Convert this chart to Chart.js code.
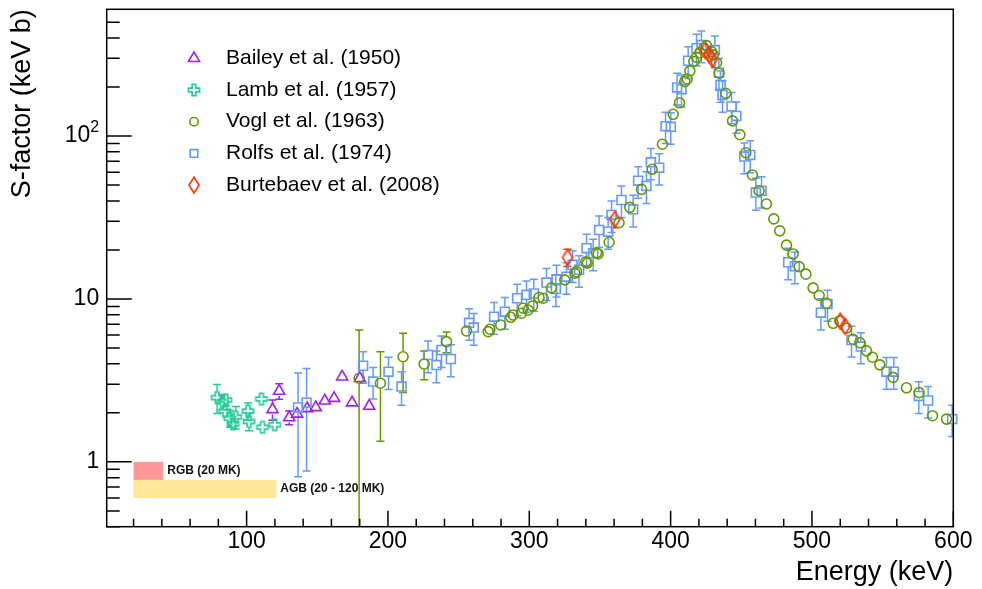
<!DOCTYPE html>
<html>
<head>
<meta charset="utf-8">
<title>S-factor vs energy</title>
<script src="https://cdn.jsdelivr.net/npm/chart.js@4.4.1/dist/chart.umd.min.js"></script>
<style>
  html, body { margin: 0; padding: 0; background: #fff; }
  #wrap { width: 982px; height: 589px; }
</style>
</head>
<body>
<div id="wrap"><canvas id="sfactorChart" width="982" height="589"></canvas></div>
<script>
// energies in keV, S-factor and its (symmetric) error in keV b
const baileyE = [118.3, 123.0, 130.1, 135.7, 142.8, 148.9, 155.3, 161.9, 167.6, 174.6, 180.1, 186.7];
const baileyS = [2.10, 2.72, 1.87, 1.97, 2.13, 2.16, 2.37, 2.46, 3.33, 2.31, 3.26, 2.20];
const baileyErr = [0.30, 0.30, 0.18, 0.05, 0.10, 0.05, 0.06, 0.06, 0.08, 0.06, 0.08, 0.06];

const lambE = [79.1, 82.9, 85.3, 84.6, 88.1, 90.4, 92.3, 101.0, 101.7, 110.5, 111.2, 119.9];
const lambS = [2.48, 2.34, 2.40, 2.05, 1.85, 1.71, 1.89, 2.05, 1.77, 2.43, 1.63, 1.69];
const lambErr = [0.50, 0.25, 0.20, 0.15, 0.22, 0.12, 0.30, 0.25, 0.22, 0.10, 0.08, 0.08];

const voglE = [179.6, 194.7, 210.7, 225.6, 241.4, 255.6, 270.9, 272.1, 279.8, 286.9, 288.5, 294.5, 295.6, 299.2, 302.3,
  306.9, 309.8, 315.7, 325.1, 332.2, 333.4, 340.0, 341.0, 347.6, 348.7, 356.5, 363.5, 371.1, 379.4, 386.9, 394.2,
  401.8, 406.3, 410.0, 411.7, 413.6, 416.4, 418.3, 420.7, 423.5, 425.4, 428.9, 430.2, 432.5, 434.3, 439.0, 443.8,
  449.0, 453.2, 457.9, 462.6, 467.8, 473.0, 477.2, 482.0, 486.7, 490.9, 495.7, 500.8, 505.1, 510.3, 515.0, 519.7,
  524.5, 529.1, 533.9, 538.6, 542.8, 548.0, 557.4, 566.9, 575.8, 585.3, 595.2];
const voglS = [3.26, 3.04, 4.42, 3.99, 5.47, 6.36, 6.30, 6.52, 6.92, 7.72, 7.98, 8.17, 8.77, 8.56, 9.06,
  10.2, 10.1, 11.7, 13.1, 14.4, 14.7, 16.9, 16.6, 19.2, 18.9, 22.3, 29.4, 36.5, 47.1, 62.5, 89.1,
  136, 160, 216, 224, 251, 287, 305, 325, 346, 359, 330, 315, 282, 243, 183, 124,
  102, 79.0, 57.7, 46.2, 38.3, 31.0, 26.2, 21.4, 18.9, 15.8, 14.2, 11.7, 10.5, 9.41, 7.09, 7.33,
  6.61, 5.66, 5.39, 4.80, 4.39, 3.94, 3.30, 2.85, 2.66, 1.92, 1.83];
const voglErr = [3.20, 1.70, 1.75, 0.80, 0.80, 0.40, 0.19, 0.20, 0.21, 0.23, 0.24, 0.25, 0.26, 0.26, 0.27,
  0.31, 0.30, 0.35, 0.39, 0.43, 0.44, 0.51, 0.50, 0.58, 0.57, 0.67, 0.88, 1.1, 1.4, 1.9, 2.7,
  4.1, 4.8, 6.5, 6.7, 7.5, 8.6, 9.2, 9.8, 10.4, 10.8, 9.9, 9.5, 8.5, 7.3, 5.5, 3.7,
  3.1, 2.4, 1.7, 1.4, 1.1, 0.93, 0.79, 0.64, 0.57, 0.47, 0.43, 0.35, 0.32, 0.28, 0.21, 0.22,
  0.20, 0.17, 0.16, 0.14, 0.13, 0.12, 0.10, 0.09, 0.08, 0.06, 0.05];

const rolfsE = [136.4, 142.4, 182.4, 189.5, 200.4, 209.6, 228.4, 234.3, 237.9, 244.5, 257.4, 260.7, 275.1, 282.7,
  291.4, 298.0, 303.2, 312.2, 318.8, 319.3, 326.3, 330.6, 335.2, 340.5, 345.2, 349.4, 355.8, 358.2, 365.2, 373.5,
  377.0, 382.9, 386.0, 391.9, 396.4, 400.1, 404.6, 407.7, 412.4, 418.3, 421.8, 431.3, 434.2, 435.3, 436.7, 443.1,
  446.5, 452.1, 456.3, 460.3, 464.3, 483.2, 487.9, 506.3, 511.0, 528.0, 534.6, 552.7, 557.9, 575.6, 582.2, 599.2];
const rolfsS = [2.16, 2.31, 3.89, 3.11, 3.58, 2.90, 4.53, 3.93, 4.86, 4.28, 7.14, 6.67, 7.79, 8.36,
  10.1, 10.6, 10.8, 12.6, 11.5, 13.2, 13.7, 16.2, 15.1, 20.5, 19.1, 26.5, 25.9, 32.8, 40.5, 35.5,
  53.2, 49.4, 69.0, 64.0, 115, 114, 199, 194, 290, 346, 362, 337, 245, 206, 179, 152,
  133, 74.8, 76.6, 45.0, 46.2, 16.8, 15.9, 8.24, 9.31, 5.60, 5.10, 3.58, 3.58, 2.54, 2.38, 1.83];
const rolfsErr = [1.35, 1.43, 0.85, 0.68, 0.80, 0.67, 1.00, 0.87, 1.07, 0.95, 1.57, 1.47, 1.71, 1.84,
  2.2, 2.3, 2.4, 2.8, 2.5, 2.9, 3.0, 3.6, 3.3, 4.5, 4.2, 5.8, 5.7, 7.2, 8.9, 7.8,
  11.7, 10.9, 15, 14, 25, 25, 44, 43, 64, 76, 80, 74, 54, 45, 39, 33,
  29, 16, 17, 10, 10, 3.7, 3.5, 1.8, 2.0, 1.2, 1.1, 0.79, 0.79, 0.56, 0.52, 0.40];

const burtebaevE = [327.0, 360.5, 424.5, 427.3, 429.5, 520.0, 523.5];
const burtebaevS = [18.0, 30.8, 335, 315, 296, 7.3, 6.8];
const burtebaevErr = [2.2, 3.4, 25, 25, 25, 0.6, 0.6];

// Gamow-window bands drawn in the lower left corner
const bandLabels = ["RGB (20 MK)", "AGB (20 - 120 MK)"];
const bandEmin = [20, 20];
const bandEmax = [41, 121];
const bandSmin = [0.775, 0.6];
const bandSmax = [1.0, 0.775];

// axis ticks (y labels are base + superscript exponent, ROOT style)
const xMajorTicks = [100, 200, 300, 400, 500, 600];
const xMinorTicks = [20, 40, 60, 80, 120, 140, 160, 180, 220, 240, 260, 280, 320, 340, 360, 380,
  420, 440, 460, 480, 520, 540, 560, 580];
const yMajorTicks = [1, 10, 100];
const yLabelBase = ["1", "10", "10"];
const yLabelExp = ["", "", "2"];
const yMinorTicks = [0.4, 0.5, 0.6, 0.7, 0.8, 0.9, 2, 3, 4, 5, 6, 7, 8, 9, 20, 30, 40, 50, 60, 70, 80, 90,
  200, 300, 400, 500];

const FONT = '"Liberation Sans", Arial, Helvetica, sans-serif';
const BAND_COLORS = ["#ff9999", "#ffe699"];

function makeCross(color) {
  const c = document.createElement("canvas");
  c.width = 16; c.height = 16;
  const g = c.getContext("2d");
  const s = 5.6, a = 1.9;
  const pts = [[-a, -s], [a, -s], [a, -a], [s, -a], [s, a], [a, a], [a, s], [-a, s], [-a, a], [-s, a], [-s, -a], [-a, -a]];
  g.translate(8, 8);
  g.beginPath();
  pts.forEach((p, i) => i ? g.lineTo(p[0], p[1]) : g.moveTo(p[0], p[1]));
  g.closePath();
  g.strokeStyle = color;
  g.lineWidth = 1.6;
  g.stroke();
  return c;
}

function makeDiamond(color) {
  const c = document.createElement("canvas");
  c.width = 14; c.height = 20;
  const g = c.getContext("2d");
  g.translate(7, 10);
  g.beginPath();
  g.moveTo(0, -8); g.lineTo(5, 0); g.lineTo(0, 8); g.lineTo(-5, 0);
  g.closePath();
  g.strokeStyle = color;
  g.lineWidth = 1.6;
  g.stroke();
  return c;
}

function toPoints(E, S, err) {
  return E.map((e, i) => ({ x: e, y: S[i], err: err[i] }));
}

function series(label, E, S, err, color, style, radius, gap, order, legendRadius) {
  return {
    label: label,
    data: toPoints(E, S, err),
    showLine: false,
    pointStyle: style,
    pointRadius: radius,
    pointBorderWidth: 1.6,
    pointBorderColor: color,
    pointBackgroundColor: "rgba(0,0,0,0)",
    borderColor: color,
    clip: false,
    order: order,
    gap: gap,
    legendRadius: legendRadius
  };
}

const framePlugin = {
  id: "rootFrame",
  beforeDatasetsDraw(chart) {
    const { ctx, chartArea: a, scales: { x, y } } = chart;
    ctx.save();

    bandLabels.forEach((label, i) => {
      const x0 = x.getPixelForValue(bandEmin[i]);
      const x1 = x.getPixelForValue(bandEmax[i]);
      const y0 = y.getPixelForValue(bandSmax[i]);
      const y1 = y.getPixelForValue(bandSmin[i]);
      ctx.fillStyle = BAND_COLORS[i];
      ctx.fillRect(x0, y0, x1 - x0, y1 - y0);
      ctx.fillStyle = "#111";
      ctx.font = "bold 12px " + FONT;
      ctx.textAlign = "left";
      ctx.textBaseline = "middle";
      ctx.fillText(label, x1 + 4, (y0 + y1) / 2);
    });

    // error bars, with a gap where the marker sits
    ctx.beginPath();
    ctx.rect(a.left, a.top, a.right - a.left, a.bottom - a.top);
    ctx.clip();
    ctx.lineWidth = 1.5;
    chart.data.datasets.forEach(ds => {
      ctx.strokeStyle = ds.borderColor;
      ds.data.forEach(p => {
        const px = x.getPixelForValue(p.x);
        const py = y.getPixelForValue(p.y);
        const hi = y.getPixelForValue(p.y + p.err);
        const lo = p.y - p.err > 0 ? y.getPixelForValue(p.y - p.err) : a.bottom + 40;
        ctx.beginPath();
        if (py - hi > ds.gap) {
          ctx.moveTo(px, py - ds.gap); ctx.lineTo(px, hi);
          ctx.moveTo(px - 4, hi); ctx.lineTo(px + 4, hi);
        }
        if (lo - py > ds.gap) {
          ctx.moveTo(px, py + ds.gap); ctx.lineTo(px, lo);
          ctx.moveTo(px - 4, lo); ctx.lineTo(px + 4, lo);
        }
        ctx.stroke();
      });
    });
    ctx.restore();
  },
  afterDraw(chart) {
    const { ctx, chartArea: a, scales: { x, y } } = chart;
    ctx.save();
    ctx.strokeStyle = "#000";
    ctx.lineWidth = 1.5;
    ctx.strokeRect(a.left, a.top, a.right - a.left, a.bottom - a.top);

    ctx.beginPath();
    yMajorTicks.forEach(v => { const py = y.getPixelForValue(v); ctx.moveTo(a.left, py); ctx.lineTo(a.left + 25, py); });
    yMinorTicks.forEach(v => { const py = y.getPixelForValue(v); ctx.moveTo(a.left, py); ctx.lineTo(a.left + 13, py); });
    xMajorTicks.forEach(v => { const px = x.getPixelForValue(v); ctx.moveTo(px, a.bottom); ctx.lineTo(px, a.bottom - 16); });
    xMinorTicks.forEach(v => { const px = x.getPixelForValue(v); ctx.moveTo(px, a.bottom); ctx.lineTo(px, a.bottom - 8); });
    ctx.stroke();

    // y tick labels with a real superscript
    ctx.fillStyle = "#000";
    ctx.textAlign = "right";
    yMajorTicks.forEach((v, i) => {
      const py = y.getPixelForValue(v);
      let right = a.left - 7.5;
      if (yLabelExp[i]) {
        ctx.font = "16px " + FONT;
        ctx.textBaseline = "alphabetic";
        ctx.fillText(yLabelExp[i], right, py - 4);
        right -= ctx.measureText(yLabelExp[i]).width;
      }
      ctx.font = "23px " + FONT;
      ctx.textBaseline = "middle";
      ctx.fillText(yLabelBase[i], right, py);
    });

    // legend, top left inside the frame
    chart.data.datasets.forEach((ds, i) => {
      const ly = 58.3 + i * 31.7;
      ctx.strokeStyle = ds.borderColor;
      ctx.fillStyle = "rgba(0,0,0,0)";
      ctx.lineWidth = 1.6;
      Chart.helpers.drawPoint(ctx, { pointStyle: ds.pointStyle, radius: ds.legendRadius, rotation: 0, borderWidth: 1.6 }, 194, ly);
      ctx.fillStyle = "#000";
      ctx.font = "21px " + FONT;
      ctx.textAlign = "left";
      ctx.textBaseline = "middle";
      ctx.fillText(ds.label, 226, ly);
    });
    ctx.restore();
  }
};

function init() {
  const datasets = [
    series("Bailey et al. (1950)", baileyE, baileyS, baileyErr, "#a020f0", "triangle", 6.4, 5, 3, 6.4),
    series("Lamb et al. (1957)", lambE, lambS, lambErr, "#22cc99", makeCross("#22cc99"), 6, 6, 4, 6),
    series("Vogl et al. (1963)", voglE, voglS, voglErr, "#669900", "circle", 5, 5.5, 1, 4.2),
    series("Rolfs et al. (1974)", rolfsE, rolfsS, rolfsErr, "#6699ff", "rect", 6.3, 5, 2, 5.4),
    series("Burtebaev et al. (2008)", burtebaevE, burtebaevS, burtebaevErr, "#ff3300", makeDiamond("#ff3300"), 6, 8, 0, 6)
  ];

  new Chart(document.getElementById("sfactorChart"), {
    type: "scatter",
    data: { datasets: datasets },
    plugins: [framePlugin],
    options: {
      responsive: false,
      animation: false,
      devicePixelRatio: 1,
      layout: { padding: { top: 9.3, right: 28.7, left: 0, bottom: 0 } },
      plugins: { legend: { display: false }, tooltip: { enabled: false } },
      scales: {
        x: {
          type: "linear",
          min: 1,
          max: 600,
          bounds: "data",
          afterFit: s => { s.height = 62.3; s.paddingLeft = 0; s.paddingRight = 0; },
          afterBuildTicks: s => { s.ticks = xMajorTicks.map(v => ({ value: v })); },
          grid: { display: false, drawTicks: false },
          border: { display: false },
          ticks: { color: "#000", font: { family: FONT, size: 23 }, padding: 1.5, maxRotation: 0, autoSkip: false },
          title: { display: true, text: "Energy (keV)", align: "end", color: "#000",
            font: { family: FONT, size: 27 }, padding: { top: 2.4, bottom: 0 } }
        },
        y: {
          type: "logarithmic",
          min: 0.4,
          max: 600,
          bounds: "data",
          afterFit: s => { s.width = 106.7; s.paddingTop = 0; s.paddingBottom = 0; },
          afterBuildTicks: s => { s.ticks = yMajorTicks.map(v => ({ value: v })); },
          grid: { display: false, drawTicks: false },
          border: { display: false },
          ticks: { display: false },
          title: { display: true, text: "S-factor (keV b)", align: "end", color: "#000",
            font: { family: FONT, size: 27 }, padding: { top: 6.5, bottom: 0 } }
        }
      }
    }
  });
}

document.addEventListener("DOMContentLoaded", init);
</script>
</body>
</html>
